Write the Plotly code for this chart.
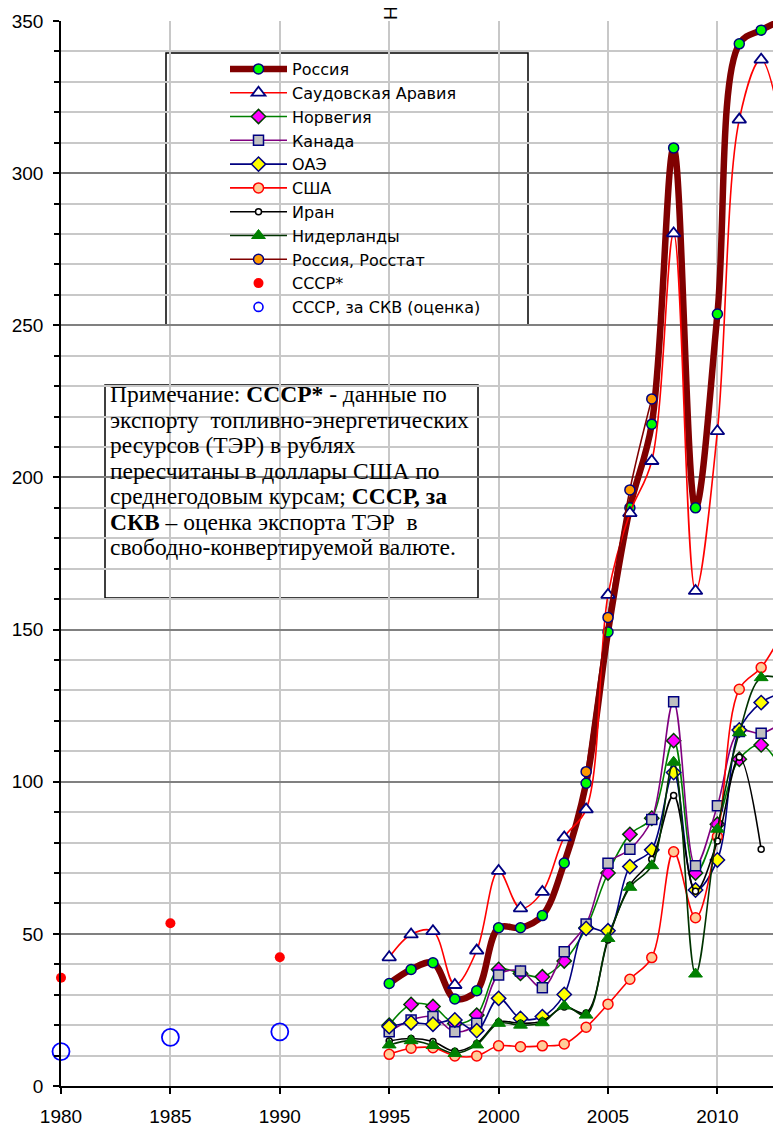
import plotly.graph_objects as go

# ---------------- data ----------------
years = list(range(1995, 2014))

russia = [33.7, 38.3, 40.5, 28.6, 31.3, 52.0, 52.0, 56.0, 73.3, 99.5, 149.2, 190.0,
          217.5, 308.3, 190.0, 253.7, 342.5, 347.0, 350.5]
saudi = [42.3, 49.8, 50.9, 33.2, 44.5, 70.7, 58.4, 63.8, 81.7, 90.9, 161.4, 188.3,
         205.4, 280.2, 162.7, 215.2, 317.6, 337.3, 312.0]
norway = [20.0, 26.8, 26.1, 20.5, 23.3, 38.3, 37.0, 35.9, 41.1, 52.0, 70.0, 82.7,
          88.0, 113.5, 70.0, 86.0, 107.4, 112.1, 103.0]
canada = [17.8, 21.7, 22.8, 17.8, 20.6, 36.5, 37.8, 32.3, 44.1, 53.2, 73.2, 77.8,
          87.6, 126.3, 72.4, 92.1, 116.5, 115.9, 119.7]
uae = [19.5, 20.8, 20.3, 21.7, 18.2, 28.8, 22.2, 22.8, 30.1, 51.8, 51.0, 72.1,
       77.6, 103.0, 64.4, 74.3, 117.0, 126.0, 129.3]
usa = [10.4, 12.4, 12.6, 9.9, 9.9, 13.2, 12.9, 13.2, 13.8, 19.3, 26.9, 35.1,
       42.2, 77.0, 55.3, 82.0, 130.4, 137.5, 149.3]
iran_years = list(range(1995, 2013))
iran = [14.8, 15.6, 14.6, 11.4, 14.0, 21.0, 20.6, 21.4, 26.0, 24.0, 48.0, 66.0,
        74.5, 95.5, 64.0, 80.5, 108.0, 77.8]
netherlands = [13.5, 14.9, 13.3, 10.7, 13.5, 20.6, 20.0, 20.8, 26.3, 23.3, 48.5, 65.3,
               72.4, 106.4, 36.8, 84.4, 116.1, 134.2, 133.6]
rosstat_years = [2004, 2005, 2006, 2007]
rosstat = [103.3, 154.0, 195.9, 225.8]
ussr_years = [1980, 1985, 1990]
ussr = [35.6, 53.5, 42.3]
ussr_skv = [11.3, 16.0, 17.8]

x_ticks = [1980, 1985, 1990, 1995, 2000, 2005, 2010]
y_ticks = [0, 50, 100, 150, 200, 250, 300, 350]

names = ["Россия", "Саудовская Аравия", "Норвегия", "Канада", "ОАЭ", "США", "Иран",
         "Нидерланды", "Россия, Росстат", "СССР*", "СССР, за СКВ (оценка)"]

note_lines = [
    "Примечание: <b>СССР*</b> - данные по",
    "экспорту  топливно-энергетических",
    "ресурсов (ТЭР) в рублях",
    "пересчитаны в доллары США по",
    "среднегодовым курсам; <b>СССР, за</b>",
    "<b>СКВ</b> – оценка экспорта ТЭР  в",
    "свободно-конвертируемой валюте.",
]

# ---------------- geometry ----------------
# the page body has an 8px margin; positions below are given in window pixels
OFF = 8
W, H = 781, 1126
L = 61 - OFF           # y axis at window x = 61
T = 21 - OFF           # 350 line at window y = 21
B = H - (1086 - OFF)   # 0 line at window y = 1086
PW, PH = W - L, H - T - B
X_END = 1980 + PW / 21.88


def px(xw):
    return (xw - OFF - L) / PW


def py(yw):
    return (1086 - yw) / PH


fig = go.Figure()

NAVY = "#000080"
SPL = dict(shape="spline", smoothing=1.0)


def add_line(x, y, name, lcolor, lwidth, symbol, size, fill, border, bw=1.5):
    fig.add_trace(go.Scatter(
        x=x, y=y, name=name, mode="lines+markers",
        line=dict(color=lcolor, width=lwidth, **SPL),
        marker=dict(symbol=symbol, size=size, color=fill,
                    line=dict(color=border, width=bw)),
        cliponaxis=False, legendgroup=name,
    ))


add_line(years, russia, names[0], "#800000", 6.5, "circle", 10, "#00FF00", NAVY)
add_line(years, saudi, names[1], "#FF0000", 1.6, "triangle-up", 12, "#FFFFFF", NAVY, 1.8)
add_line(years, norway, names[2], "#008000", 1.6, "diamond", 11, "#FF00FF", "#004000")
add_line(years, canada, names[3], "#800080", 1.6, "square", 10, "#C0C0C0", NAVY)
add_line(years, uae, names[4], NAVY, 1.6, "diamond", 11, "#FFFF00", NAVY)
add_line(years, usa, names[5], "#FF0000", 1.6, "circle", 10, "#FFCC99", "#FF0000")
add_line(iran_years, iran, names[6], "#000000", 1.6, "circle", 6, "#FFFFFF", "#000000")
add_line(years, netherlands, names[7], "#003300", 1.6, "triangle-up", 12, "#008000", "#008000", 1)
add_line(rosstat_years, rosstat, names[8], "#800000", 1.6, "circle", 10, "#FF9900", NAVY)

fig.add_trace(go.Scatter(
    x=ussr_years, y=ussr, name=names[9], mode="markers",
    marker=dict(symbol="circle", size=10, color="#FF0000"),
    cliponaxis=False, legendgroup=names[9],
))
fig.add_trace(go.Scatter(
    x=ussr_years, y=ussr_skv, name=names[10], mode="markers",
    marker=dict(symbol="circle-open", size=17, color="#0000FF", line=dict(width=1.8)),
    cliponaxis=False, legendgroup=names[10], showlegend=False,
))
# legend sample for the open blue circles (smaller than in the plot)
fig.add_trace(go.Scatter(
    x=[None], y=[None], name=names[10], mode="markers",
    marker=dict(symbol="circle-open", size=9, color="#0000FF", line=dict(width=1.6)),
    legendgroup=names[10],
))

# legend frame and note frame
shapes = [
    dict(type="rect", xref="paper", yref="paper", layer="between",
         x0=px(166), x1=px(528), y0=py(325), y1=py(53),
         fillcolor="white", line=dict(color="black", width=1.5)),
    dict(type="rect", xref="paper", yref="paper", layer="between",
         x0=px(105), x1=px(478), y0=py(598), y1=py(385),
         fillcolor="white", line=dict(color="black", width=1.5)),
]

annotations = []
for i, line in enumerate(note_lines):
    annotations.append(dict(
        xref="paper", yref="paper", x=px(108), y=py(404 + i * 25.5),
        xanchor="left", yanchor="bottom", yshift=-5,
        text=line, showarrow=False, align="left",
        font=dict(family="Liberation Serif", size=23.5, color="black")))

annotations.append(dict(
    xref="paper", yref="paper", x=px(390), y=py(22), xanchor="center", yanchor="bottom",
    text="Н", textangle=-90, showarrow=False,
    font=dict(family="Liberation Sans", size=19, color="black")))

fig.update_layout(
    width=W, height=H,
    margin=dict(l=L, r=0, t=T, b=B, pad=0),
    paper_bgcolor="white", plot_bgcolor="white",
    font=dict(family="Liberation Sans", size=19, color="black"),
    shapes=shapes, annotations=annotations,
    showlegend=True,
    legend=dict(
        x=px(225), y=py(52), xanchor="left", yanchor="top",
        bgcolor="rgba(0,0,0,0)", borderwidth=0,
        font=dict(family="DejaVu Sans", size=16, color="black"),
        itemwidth=57, traceorder="grouped", tracegroupgap=0,
        itemsizing="trace",
    ),
    xaxis=dict(
        range=[1980, X_END], tickmode="array", tickvals=x_ticks,
        ticktext=[str(v) for v in x_ticks],
        showgrid=True, gridcolor="#C8C8C8", gridwidth=1.5,
        showline=True, linecolor="black", linewidth=1.5,
        ticks="outside", ticklen=6, tickcolor="black", tickwidth=1.5,
        zeroline=False, ticklabelstandoff=6,
    ),
    yaxis=dict(
        range=[0, 350], tickmode="array", tickvals=y_ticks,
        ticktext=[str(v) for v in y_ticks],
        showgrid=True, gridcolor="#808080", gridwidth=1.5,
        showline=True, linecolor="black", linewidth=1.5,
        ticks="outside", ticklen=6, tickcolor="black", tickwidth=1.5,
        zeroline=False, ticklabelstandoff=6,
        minor=dict(dtick=10, tick0=0, showgrid=True, gridcolor="#C8C8C8", gridwidth=1.5,
                   ticks="outside", ticklen=5, tickcolor="black", tickwidth=1.5),
    ),
)

fig.write_html("out.html")
